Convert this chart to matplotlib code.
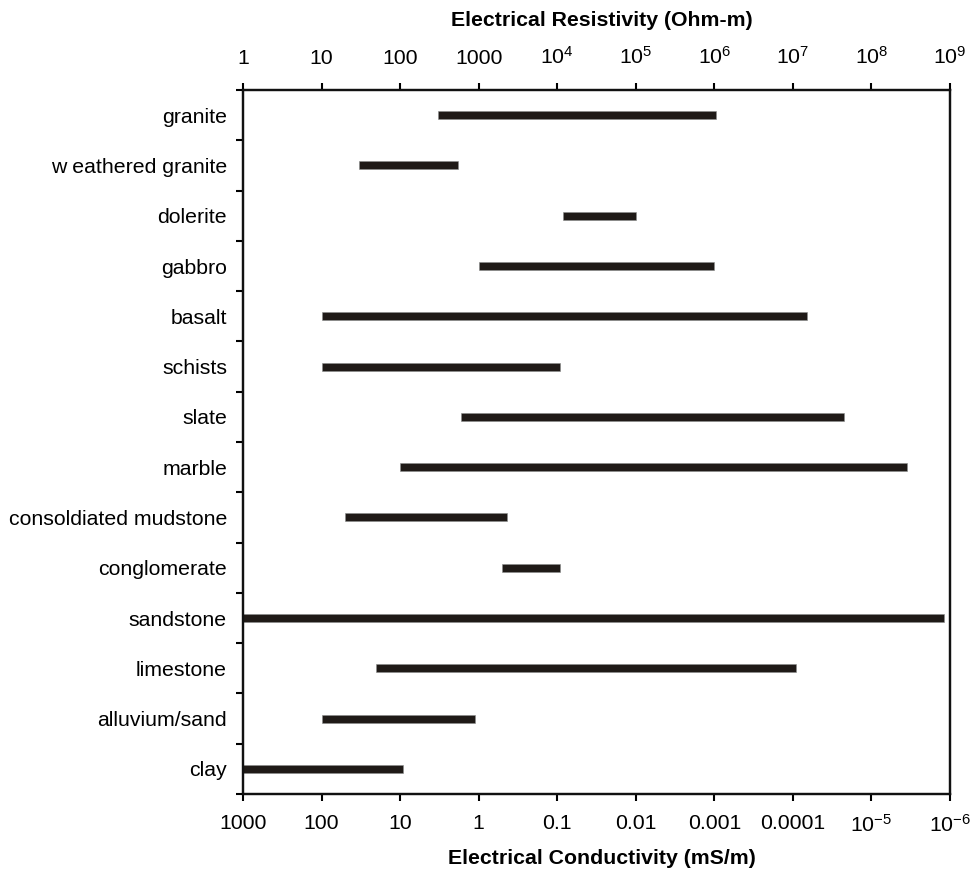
import numpy as np
import matplotlib as mpl
mpl.use('Agg')
import matplotlib.pyplot as plt
from matplotlib.ticker import NullLocator

plt.rcParams['font.family'] = ['Liberation Sans', 'DejaVu Sans']
plt.rcParams['mathtext.fontset'] = 'custom'
plt.rcParams['mathtext.rm'] = 'Liberation Sans'

# resistivity ranges in Ohm-m
rocks = ['granite', 'w eathered granite', 'dolerite', 'gabbro', 'basalt', 'schists',
         'slate', 'marble', 'consoldiated mudstone', 'conglomerate', 'sandstone',
         'limestone', 'alluvium/sand', 'clay']
res_low = [300, 30, 1.2e4, 1e3, 10, 10, 600, 100, 20, 2e3, 1, 50, 10, 1]
res_high = [1.05e6, 550, 1e5, 1e6, 1.5e7, 1.1e4, 4.5e7, 2.8e8, 2.3e3, 1.1e4, 8.5e8, 1.1e7, 900, 110]

tick_values = [1, 10, 100, 1e3, 1e4, 1e5, 1e6, 1e7, 1e8, 1e9]
top_labels = ['1', '10', '100', '1000', r'$\mathregular{10^{4}}$', r'$\mathregular{10^{5}}$',
              r'$\mathregular{10^{6}}$', r'$\mathregular{10^{7}}$', r'$\mathregular{10^{8}}$',
              r'$\mathregular{10^{9}}$']
bottom_labels = ['1000', '100', '10', '1', '0.1', '0.01', '0.001', '0.0001',
                 r'$\mathregular{10^{-5}}$', r'$\mathregular{10^{-6}}$']

FS = 15.3


def main():
    fig = plt.figure(figsize=(9.73, 8.77), dpi=100)
    ax = fig.add_axes([243/973, 1-794/877, 707/973, 704/877])

    y = np.arange(len(rocks))
    widths = np.array(res_high) - np.array(res_low)
    ax.barh(y, widths, left=res_low, height=0.16, color='#1f1a17',
            edgecolor='#8c8c8c', linewidth=0.4)

    ax.set_xscale('log')
    ax.set_xlim(1, 1e9)
    ax.set_ylim(len(rocks) - 0.5, -0.5)

    # rock names at the centres, ticks between them
    ax.set_yticks(y, rocks, fontsize=FS)
    ax.tick_params(axis='y', which='major', length=0, pad=11.5)
    ax.set_yticks(np.arange(-0.5, len(rocks)), minor=True)
    ax.tick_params(axis='y', which='minor', length=4.7, width=1.5, direction='out')

    ax.xaxis.set_minor_locator(NullLocator())
    ax.set_xticks(tick_values, bottom_labels, fontsize=FS)
    ax.tick_params(axis='x', which='major', length=4.7, width=1.5, pad=9.5)

    ax2 = ax.twiny()
    ax2.set_xscale('log')
    ax2.set_xlim(1, 1e9)
    ax2.xaxis.set_minor_locator(NullLocator())
    ax2.set_xticks(tick_values, top_labels, fontsize=FS)
    ax2.tick_params(axis='x', which='major', length=4.7, width=1.5, pad=11.5)

    for a in (ax, ax2):
        for s in a.spines.values():
            s.set_linewidth(1.6)
            s.set_color('#111111')

    fig.text(602/973, 1-20/877, 'Electrical Resistivity (Ohm-m)', ha='center', va='center',
             fontsize=FS, fontweight='bold')
    fig.text(602/973, 1-858/877, 'Electrical Conductivity (mS/m)', ha='center', va='center',
             fontsize=FS, fontweight='bold')

    fig.savefig('out.png', dpi=100)


if __name__ == '__main__':
    main()
